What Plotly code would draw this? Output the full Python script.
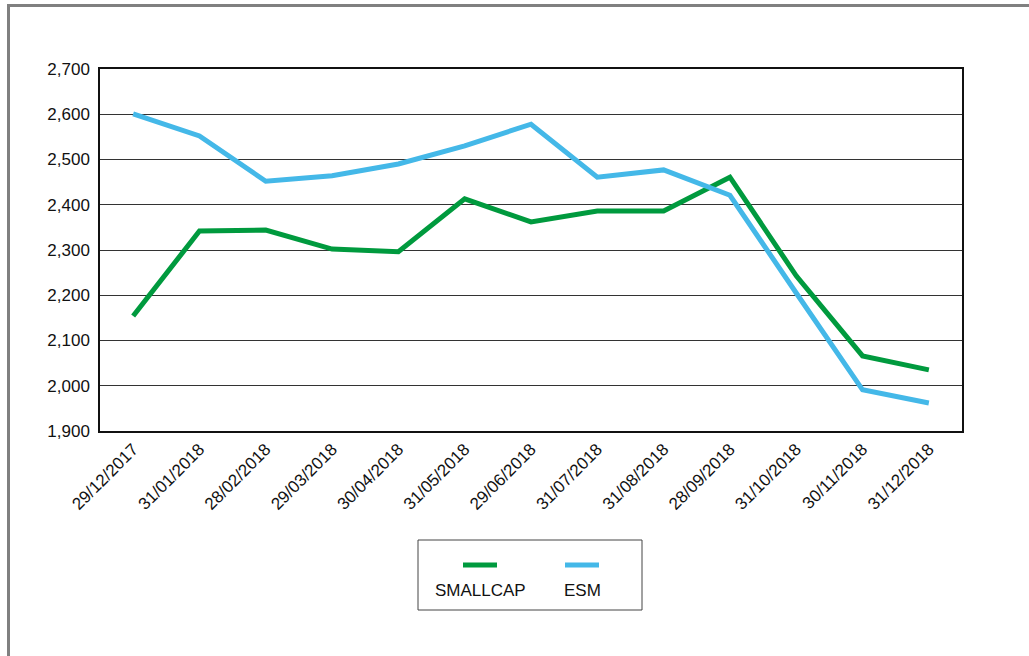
import plotly.graph_objects as go

dates = ["29/12/2017", "31/01/2018", "28/02/2018", "29/03/2018", "30/04/2018",
         "31/05/2018", "29/06/2018", "31/07/2018", "31/08/2018", "28/09/2018",
         "31/10/2018", "30/11/2018", "31/12/2018"]
smallcap = [2154, 2342, 2344, 2302, 2296, 2413, 2362, 2386, 2386, 2461, 2243, 2066, 2035]
esm = [2601, 2552, 2452, 2464, 2490, 2530, 2578, 2461, 2477, 2421, 2205, 1991, 1962]
series_names = ["SMALLCAP", "ESM"]
colors = ["#009A3E", "#44B8E8"]

W, H = 1029, 656
L, R, T, B = 100, 962, 69, 431
FONT = "Liberation Sans, Arial, sans-serif"


def px(x):
    return (x - L) / (R - L)


def py(y):
    return (B - y) / (B - T)


fig = go.Figure()
for name, vals, col in zip(series_names, [smallcap, esm], colors):
    fig.add_trace(go.Scatter(x=dates, y=vals, name=name, mode="lines",
                             line=dict(color=col, width=5), showlegend=False))

shapes = []
shapes.append(dict(type="rect", xref="paper", yref="paper",
                   x0=px(8.5), x1=px(1100), y0=py(5.5), y1=py(800),
                   line=dict(color="#808080", width=3), layer="below"))
shapes.append(dict(type="rect", xref="paper", yref="paper",
                   x0=px(418), x1=px(642), y0=py(540), y1=py(610),
                   line=dict(color="#444444", width=1)))
annotations = []
leg_x = [(463, 497, 480), (565, 599, 582)]
for (x0, x1, xc), name, col in zip(leg_x, series_names, colors):
    shapes.append(dict(type="line", xref="paper", yref="paper",
                       x0=px(x0), x1=px(x1), y0=py(565), y1=py(565),
                       line=dict(color=col, width=5)))
    annotations.append(dict(xref="paper", yref="paper", x=px(xc), y=py(590),
                            text=name, showarrow=False, xanchor="center",
                            yanchor="middle", font=dict(size=17, color="#111111", family=FONT)))

fig.update_layout(
    width=W, height=H,
    margin=dict(l=L, r=W - R, t=T, b=H - B),
    paper_bgcolor="white", plot_bgcolor="white",
    font=dict(family=FONT, size=17, color="#111111"),
    shapes=shapes, annotations=annotations,
    showlegend=False,
)
fig.update_xaxes(type="category", range=[-0.5, 12.5], showgrid=False,
                 showline=True, mirror=True, linecolor="#111111", linewidth=1.5,
                 tickangle=-45, ticks="", tickfont=dict(size=17))
fig.update_yaxes(range=[1900, 2700], dtick=100, tickformat=",",
                 showgrid=True, gridcolor="#333333", gridwidth=1,
                 showline=True, mirror=True, linecolor="#111111", linewidth=1.5,
                 ticks="", ticklabelstandoff=5, zeroline=False, tickfont=dict(size=17))

fig.write_html("out.html", config={"displayModeBar": False},
               post_script="document.body.style.margin='0';document.body.style.overflow='hidden';")
